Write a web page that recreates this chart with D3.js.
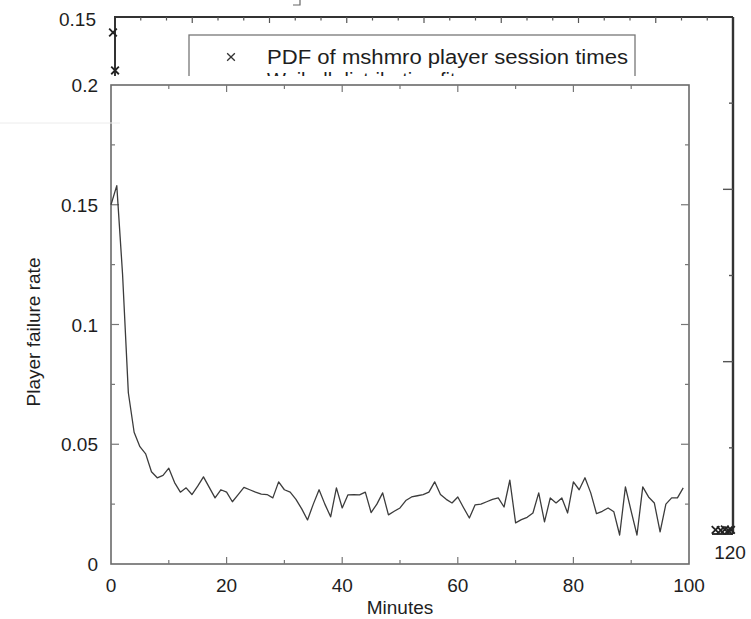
<!DOCTYPE html>
<html>
<head>
<meta charset="utf-8">
<script src="https://cdn.jsdelivr.net/npm/d3@7"></script>
<style>
  html, body { margin: 0; padding: 0; background: #fff; overflow: hidden; }
  svg { display: block; }
  text { font-family: "Liberation Sans", Arial, Helvetica, sans-serif; fill: #1e1e1e; }
</style>
</head>
<body>
<script>
// ---- Data ---------------------------------------------------------------
// Player failure rate per minute of play (minute = array index, 0..99)
const failureRate = [
  0.150, 0.158, 0.121, 0.0715, 0.055, 0.049, 0.046, 0.0385, 0.036, 0.037,
  0.040, 0.034, 0.030, 0.0318, 0.029, 0.0325, 0.0364, 0.032, 0.0276, 0.031,
  0.030, 0.026, 0.029, 0.032, 0.031, 0.030, 0.0292, 0.029, 0.0276, 0.0343,
  0.031, 0.030, 0.027, 0.023, 0.0184, 0.025, 0.031, 0.025, 0.0197, 0.0318,
  0.0234, 0.0289, 0.029, 0.0289, 0.030, 0.0215, 0.025, 0.0297, 0.0205, 0.022,
  0.0234, 0.0265, 0.028, 0.0285, 0.029, 0.030, 0.0343, 0.029, 0.027, 0.0255,
  0.028, 0.0235, 0.0192, 0.0247, 0.025, 0.026, 0.027, 0.0276, 0.0238, 0.035,
  0.0172, 0.0185, 0.0195, 0.0213, 0.0297, 0.0176, 0.0276, 0.0255, 0.0276, 0.0213,
  0.0343, 0.031, 0.036, 0.0297, 0.021, 0.022, 0.0234, 0.0218, 0.0121, 0.0322,
  0.022, 0.0121, 0.0322, 0.028, 0.0255, 0.0134, 0.025, 0.0276, 0.0276, 0.0318
];
const rateTicks = [0, 0.05, 0.1, 0.15, 0.2];
const rateTickLabels = ["0", "0.05", "0.1", "0.15", "0.2"];
const minuteTicks = [0, 20, 40, 60, 80, 100];
const minuteTickLabels = ["0", "20", "40", "60", "80", "100"];

// Session-time PDF points (minutes, density) that sit outside the inset plot
const pdfMinutes = [0, 0.4, 117, 118, 118.8, 119.5, 120];
const pdfDensity = [0.1455, 0.1345, 0.0012, 0.0011, 0.0013, 0.0010, 0.0012];
const pdfLegend = ["PDF of mshmro player session times", "Weibull distribution fit"];
const pdfYTickLabel = "0.15";
const pdfXTickLabel = "120";

// ---- Canvas -------------------------------------------------------------
const W = 751, H = 619;
const svg = d3.select("body").append("svg").attr("width", W).attr("height", H);

// ===== Session-time PDF plot (underneath) =====
const bx = d3.scaleLinear().domain([0, 120]).range([115, 733]);
const by = d3.scaleLinear().domain([0, 0.15]).range([534, 17]);
const back = svg.append("g");

// frame: top, bottom and left edges
back.append("path")
  .attr("d", `M${bx(120)},${by(0.15)} H${bx(0)} V${by(0)} H${bx(120)}`)
  .attr("fill", "none").attr("stroke", "#333").attr("stroke-width", 2);

// top-edge ticks: every 5 minutes, longer every 15
d3.range(5, 120, 5).forEach(v => {
  const major = v % 15 === 0;
  back.append("line")
    .attr("x1", bx(v)).attr("x2", bx(v))
    .attr("y1", by(0.15)).attr("y2", by(0.15) + (major ? 6 : 3.5))
    .attr("stroke", "#555").attr("stroke-width", 1.2);
});

back.append("text")
  .attr("x", 96).attr("y", by(0.15) + 9)
  .attr("text-anchor", "end").attr("font-size", 19)
  .text(pdfYTickLabel);
back.append("text")
  .attr("x", bx(120) - 3).attr("y", 559)
  .attr("text-anchor", "middle").attr("font-size", 19)
  .text(pdfXTickLabel);

// legend box
const lg = back.append("g");
lg.append("rect")
  .attr("x", 189).attr("y", 35).attr("width", 446).attr("height", 70)
  .attr("fill", "#fff").attr("stroke", "#777").attr("stroke-width", 1.3);
lg.append("path")
  .attr("d", d3.symbol(d3.symbolTimes, 40)())
  .attr("transform", "translate(231,57)")
  .attr("fill", "none").attr("stroke", "#333").attr("stroke-width", 1.3);
lg.append("text")
  .attr("x", 267).attr("y", 64).attr("font-size", 20)
  .attr("textLength", 361).attr("lengthAdjust", "spacingAndGlyphs")
  .text(pdfLegend[0]);
lg.append("text")
  .attr("x", 267).attr("y", 87).attr("font-size", 20)
  .text(pdfLegend[1]);

// small corner mark at the top edge
back.append("path")
  .attr("d", "M300,0 V5 H293")
  .attr("fill", "none").attr("stroke", "#666").attr("stroke-width", 1.2);

// ===== Failure-rate plot (on top, with its own white panel) =====
const front = svg.append("g");
front.append("rect")
  .attr("x", 0).attr("y", 76).attr("width", 712).attr("height", H - 76)
  .attr("fill", "#fff");

const x = d3.scaleLinear().domain([0, 100]).range([111, 689]);
const y = d3.scaleLinear().domain([0, 0.2]).range([564, 85]);

front.append("rect")
  .attr("x", x(0)).attr("y", y(0.2))
  .attr("width", x(100) - x(0)).attr("height", y(0) - y(0.2))
  .attr("fill", "none").attr("stroke", "#6a6a6a").attr("stroke-width", 1.6);

// minute ticks on bottom and top edges
d3.range(10, 100, 10).forEach(v => {
  const len = v % 20 === 0 ? 7 : 4;
  front.append("line").attr("x1", x(v)).attr("x2", x(v))
    .attr("y1", y(0)).attr("y2", y(0) - len)
    .attr("stroke", "#777").attr("stroke-width", 1.2);
  front.append("line").attr("x1", x(v)).attr("x2", x(v))
    .attr("y1", y(0.2)).attr("y2", y(0.2) + len)
    .attr("stroke", "#777").attr("stroke-width", 1.2);
});
// rate ticks on left and right edges
[0.025, 0.05, 0.075, 0.1, 0.125, 0.15, 0.175].forEach(v => {
  const major = Math.abs(v / 0.05 - Math.round(v / 0.05)) < 1e-6;
  const len = major ? 8 : 4;
  front.append("line").attr("x1", x(0)).attr("x2", x(0) + len)
    .attr("y1", y(v)).attr("y2", y(v))
    .attr("stroke", "#777").attr("stroke-width", 1.2);
  front.append("line").attr("x1", x(100)).attr("x2", x(100) - len)
    .attr("y1", y(v)).attr("y2", y(v))
    .attr("stroke", "#777").attr("stroke-width", 1.2);
});

// tick labels
front.selectAll("text.ylab")
  .data(rateTicks)
  .join("text")
  .attr("class", "ylab")
  .attr("x", 98).attr("y", d => y(d) + 7)
  .attr("text-anchor", "end").attr("font-size", 19)
  .text((d, i) => rateTickLabels[i]);
front.selectAll("text.xlab")
  .data(minuteTicks)
  .join("text")
  .attr("class", "xlab")
  .attr("x", d => x(d)).attr("y", 592)
  .attr("text-anchor", "middle").attr("font-size", 19)
  .text((d, i) => minuteTickLabels[i]);

// axis titles
front.append("text")
  .attr("x", 400).attr("y", 614)
  .attr("text-anchor", "middle").attr("font-size", 19)
  .text("Minutes");
front.append("text")
  .attr("transform", "translate(40,332) rotate(-90)")
  .attr("text-anchor", "middle").attr("font-size", 19)
  .text("Player failure rate");

// failure-rate curve
const line = d3.line().x((d, i) => x(i)).y(d => y(d));
front.append("path")
  .datum(failureRate)
  .attr("d", line)
  .attr("fill", "none").attr("stroke", "#3c3c3c").attr("stroke-width", 1.3)
  .attr("stroke-linejoin", "round");

// ===== Right edge of the PDF plot, outside the inset panel =====
const edge = svg.append("g");
edge.append("line")
  .attr("x1", bx(120)).attr("x2", bx(120))
  .attr("y1", by(0.15)).attr("y2", by(0))
  .attr("stroke", "#333").attr("stroke-width", 2.4);
[0.025, 0.05, 0.075, 0.1, 0.125].forEach(v => {
  const major = Math.abs(v / 0.05 - Math.round(v / 0.05)) < 1e-6;
  edge.append("line")
    .attr("x1", bx(120)).attr("x2", bx(120) - (major ? 10 : 4))
    .attr("y1", by(v)).attr("y2", by(v))
    .attr("stroke", "#555").attr("stroke-width", 1.4);
});
// PDF points
edge.selectAll("path.pdf")
  .data(pdfMinutes.map((m, i) => [m, pdfDensity[i]]))
  .join("path")
  .attr("class", "pdf")
  .attr("d", d3.symbol(d3.symbolTimes, 40)())
  .attr("transform", d => `translate(${bx(d[0]) - 2},${by(d[1])})`)
  .attr("fill", "none").attr("stroke", "#222").attr("stroke-width", 1.8);

// faint seam line crossing the page
svg.append("line").attr("x1", 0).attr("x2", 120).attr("y1", 123).attr("y2", 123)
  .attr("stroke", "#ececec").attr("stroke-width", 1);
</script>
</body>
</html>
